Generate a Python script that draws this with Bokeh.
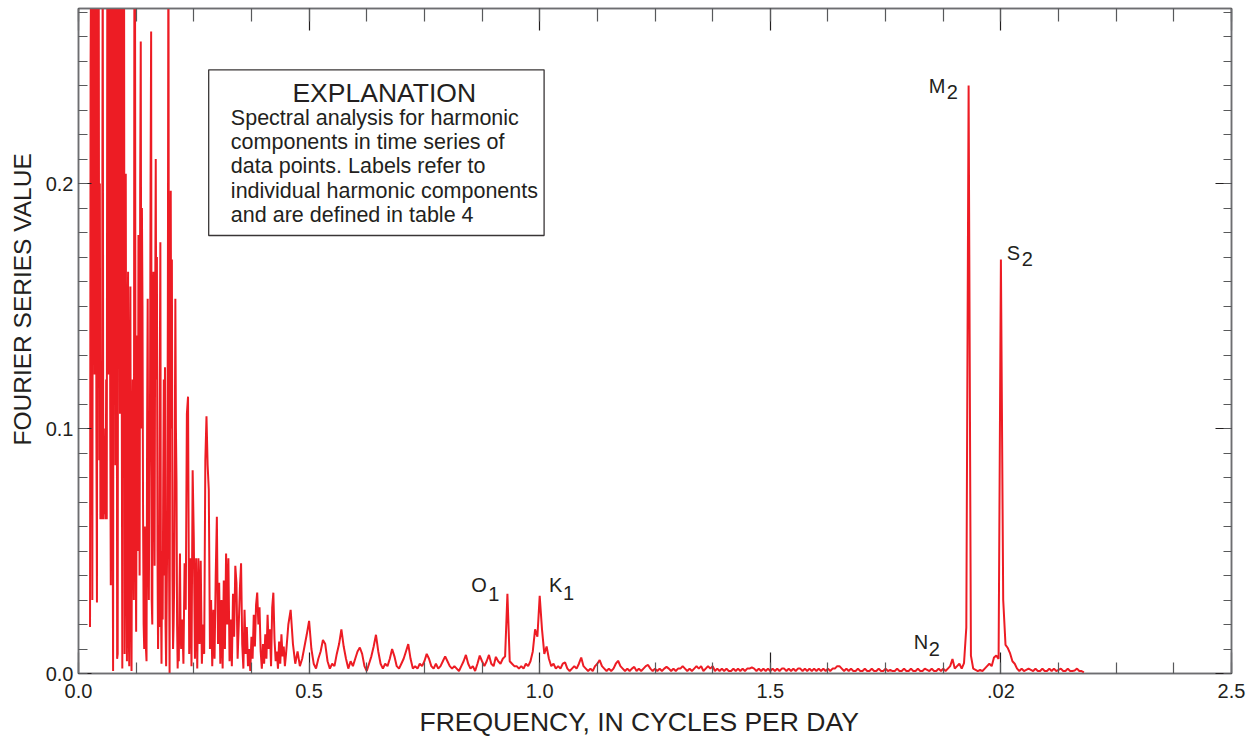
import numpy as np
from bokeh.plotting import figure
from bokeh.models import (Range1d, LinearAxis, FixedTicker, PrintfTickFormatter,
                          CustomJSTickFormatter, BoxAnnotation, Label, Title,
                          ColumnDataSource)
from bokeh.embed import file_html
from bokeh.resources import INLINE

# ---------------- data ----------------
# dense low-frequency part: start 0.025 cycles/day, step 0.00125
lo1_start = 0.025
lo1_step = 0.00125
lo1_vals = [
    0.019, 0.25, 0.30, 0.15, 0.030, 0.24, 0.31, 0.29, 0.122, 0.33,
    0.29, 0.10, 0.029, 0.27, 0.30, 0.31, 0.087, 0.20, 0.063, 0.09,
    0.063, 0.12, 0.31, 0.063, 0.10, 0.065, 0.080, 0.063, 0.12, 0.063,
    0.30, 0.26, 0.122, 0.31, 0.31, 0.108, 0.036, 0.30, 0.30, 0.085,
    0.001, 0.29, 0.32, 0.30, 0.085, 0.32, 0.29, 0.006, 0.008, 0.30,
    0.31, 0.30, 0.106, 0.31, 0.30, 0.12, 0.002, 0.29, 0.30, 0.31,
    0.008, 0.17, 0.204, 0.05, 0.005, 0.14, 0.164, 0.02, 0.003, 0.12,
    0.158, 0.03, 0.001, 0.09, 0.120, 0.07, 0.030, 0.31, 0.30, 0.06,
    0.017, 0.10, 0.138, 0.05, 0.179, 0.12, 0.040, 0.20, 0.258, 0.10,
    0.190, 0.15, 0.065, 0.02, 0.010, 0.06, 0.040, 0.01, 0.005, 0.10,
    0.153, 0.06, 0.030, 0.08, 0.106, 0.20, 0.262, 0.03, 0.020, 0.14,
    0.164, 0.09, 0.044, 0.15, 0.210, 0.12, 0.170, 0.05, 0.010, 0.04,
    0.019, 0.12, 0.176, 0.03, 0.004, 0.05, 0.022, 0.08, 0.120, 0.04,
    0.125, 0.02, 0.003, 0.03, 0.060, 0.15, 0.32, 0.05, 0.000, 0.12,
    0.197, 0.10, 0.169, 0.04, 0.010, 0.02, 0.037, 0.09, 0.153, 0.10,
    0.078, 0.02, 0.002, 0.015, 0.005, 0.03, 0.049, 0.02, 0.010, 0.015,
]
# low-frequency tail: start 0.225, step 0.0025
lo2_start = 0.225
lo2_step = 0.0025
lo2_vals = [
    0.022, 0.004, 0.045, 0.026, 0.106, 0.113, 0.008, 0.047, 0.003, 0.083,
    0.055, 0.006, 0.047, 0.002, 0.047, 0.012, 0.046, 0.004, 0.020, 0.008,
    0.087, 0.105, 0.085, 0.075, 0.010, 0.030, 0.003, 0.026, 0.006, 0.040,
    0.064, 0.012, 0.037, 0.004, 0.030, 0.002, 0.038, 0.010, 0.049, 0.020,
    0.047, 0.005, 0.022, 0.003, 0.0325, 0.015, 0.044, 0.037, 0.006, 0.020,
    0.035, 0.045, 0.012, 0.002, 0.026, 0.008, 0.019, 0.003, 0.010, 0.001,
    0.015, 0.006, 0.024, 0.011, 0.028, 0.033, 0.020, 0.027, 0.009, 0.002,
    0.012, 0.004, 0.016, 0.006, 0.024, 0.010, 0.018, 0.003, 0.027, 0.033,
    0.014, 0.005, 0.009, 0.002, 0.013, 0.004, 0.016, 0.007, 0.011, 0.003,
]

# higher frequencies: step 0.005, segments with their start frequency
hi_step = 0.005
seg_starts = [0.450, 0.955, 1.105, 1.505, 1.905]
seg_a = [
    0.008, 0.020, 0.026, 0.012, 0.004, 0.009, 0.003, 0.006, 0.011, 0.016,
    0.0215, 0.010, 0.004, 0.002, 0.006, 0.009, 0.0137, 0.012, 0.005, 0.002,
    0.004, 0.003, 0.008, 0.012, 0.018, 0.011, 0.006, 0.002, 0.005, 0.003,
    0.006, 0.009, 0.0106, 0.008, 0.003, 0.001, 0.004, 0.007, 0.011, 0.0158,
    0.009, 0.004, 0.002, 0.004, 0.003, 0.006, 0.010, 0.007, 0.003, 0.002,
    0.004, 0.006, 0.009, 0.012, 0.006, 0.002, 0.003, 0.002, 0.004, 0.003,
    0.005, 0.008, 0.006, 0.003, 0.002, 0.004, 0.002, 0.003, 0.005, 0.007,
    0.005, 0.003, 0.002, 0.003, 0.002, 0.001, 0.003, 0.005, 0.0076, 0.004,
    0.002, 0.003, 0.001, 0.004, 0.0073, 0.005, 0.003, 0.005, 0.0076, 0.004,
    0.003, 0.0068, 0.005, 0.004, 0.006, 0.007, 0.0325, 0.005, 0.004, 0.003,
    0.003,
]
seg_b = [
    0.002, 0.003, 0.002, 0.004, 0.003, 0.005, 0.009, 0.018, 0.015, 0.0317,
    0.018, 0.008, 0.011, 0.006, 0.003, 0.004, 0.002, 0.003, 0.002, 0.004,
    0.0045, 0.002, 0.001, 0.002, 0.003, 0.002, 0.004, 0.0065, 0.003, 0.002,
]
seg_c = [
    0.001, 0.002, 0.001, 0.003, 0.004, 0.0055, 0.003, 0.002, 0.001, 0.002,
    0.001, 0.002, 0.004, 0.0052, 0.003, 0.002, 0.001, 0.002, 0.001, 0.002,
    0.0027, 0.001, 0.002, 0.001, 0.002, 0.003, 0.0035, 0.002, 0.001, 0.002,
    0.001, 0.002, 0.001, 0.002, 0.0027, 0.002, 0.001, 0.002, 0.001, 0.002,
    0.002, 0.003, 0.002, 0.001, 0.002, 0.001, 0.002, 0.003, 0.002, 0.003,
    0.001, 0.002, 0.003, 0.002, 0.003, 0.001, 0.002, 0.001, 0.002, 0.001,
    0.002, 0.001, 0.001, 0.002, 0.001, 0.002, 0.001, 0.002, 0.001, 0.002,
    0.002, 0.0025, 0.002, 0.001, 0.002, 0.001, 0.002, 0.001, 0.002, 0.001,
]
seg_d = [
    0.002, 0.001, 0.002, 0.001, 0.002, 0.002, 0.001, 0.002, 0.001, 0.002,
    0.001, 0.002, 0.002, 0.001, 0.002, 0.001, 0.002, 0.001, 0.002, 0.001,
    0.002, 0.001, 0.002, 0.001, 0.002, 0.001, 0.002, 0.002, 0.003, 0.003,
    0.002, 0.001, 0.002, 0.001, 0.002, 0.001, 0.001, 0.002, 0.001, 0.001,
    0.002, 0.001, 0.001, 0.002, 0.001, 0.001, 0.002, 0.001, 0.001, 0.002,
    0.001, 0.0015, 0.001, 0.001, 0.002, 0.001, 0.001, 0.002, 0.001, 0.001,
    0.002, 0.001, 0.001, 0.002, 0.001, 0.001, 0.002, 0.0015, 0.001, 0.002,
    0.001, 0.001, 0.002, 0.001, 0.002, 0.001, 0.002, 0.003, 0.0059, 0.002,
]
seg_e = [
    0.003, 0.004, 0.002, 0.0042, 0.0187, 0.240, 0.0073, 0.002, 0.0015, 0.001,
    0.0015, 0.001, 0.002, 0.003, 0.004, 0.003, 0.0065, 0.0073, 0.006, 0.169,
    0.030, 0.0117, 0.0104, 0.0082, 0.005, 0.004, 0.002, 0.001, 0.002, 0.001,
    0.0015, 0.002, 0.0015, 0.001, 0.002, 0.001, 0.001, 0.002, 0.001, 0.001,
    0.002, 0.001, 0.002, 0.001, 0.0015, 0.002, 0.001, 0.001, 0.002, 0.001,
    0.001, 0.0012, 0.002, 0.001, 0.001, 0.0005,
]
hi_segments = [seg_a, seg_b, seg_c, seg_d, seg_e]

# axis ticks and labels
x_major = [0.0, 0.5, 1.0, 1.5, 2.0, 2.5]
x_labels = ["0.0", "0.5", "1.0", "1.5", ".02", "2.5"]
y_major = [0.0, 0.1, 0.2]
y_labels = ["0.0", "0.1", "0.2"]

# harmonic component labels
tide_names = ["O", "K", "N", "M", "S"]
tide_subs = ["1", "1", "2", "2", "2"]

explanation_title = "EXPLANATION"
explanation_lines = [
    "Spectral analysis for harmonic",
    "components in time series of",
    "data points. Labels refer to",
    "individual harmonic components",
    "and are defined in table 4",
]

# ---------------- assemble series ----------------
freq = [lo1_start + lo1_step * i for i in range(len(lo1_vals))]
vals = list(lo1_vals)
freq += [lo2_start + lo2_step * i for i in range(len(lo2_vals))]
vals += lo2_vals
for start, seg in zip(seg_starts, hi_segments):
    freq += [start + hi_step * i for i in range(len(seg))]
    vals += seg
src = ColumnDataSource(dict(f=freq, v=vals))

# ---------------- layout helpers ----------------
W, H = 1259, 740
L, R, T, B = 77, 28, 8, 67
FW = W - L - R
FH = H - T - B
X_END = 2.5
Y_PX_PER_UNIT = 2450.0
Y_END = FH / Y_PX_PER_UNIT
TEXT_SHIFT = 9  # label glyph offset correction, px


def fx(px):
    return (px - L) * X_END / FW


def fy(py):
    return (H - B - py + TEXT_SHIFT) / Y_PX_PER_UNIT


def fyb(py):
    return (H - B - py) / Y_PX_PER_UNIT


FONT = "Liberation Sans"
INK = "#231f20"
RED = "#ed1c24"

p = figure(width=W, height=H, x_range=Range1d(0, X_END), y_range=Range1d(0, Y_END),
           output_backend="svg", toolbar_location=None,
           min_border_left=L, min_border_right=R, min_border_top=T, min_border_bottom=B,
           background_fill_color="white", border_fill_color="white")
p.xgrid.visible = False
p.ygrid.visible = False
p.outline_line_color = "#6d6e71"
p.outline_line_width = 1.5

x_ticker = FixedTicker(ticks=x_major, minor_ticks=[i * 0.125 for i in range(21)])
y_ticker = FixedTicker(ticks=y_major, minor_ticks=[i * 0.01 for i in range(28)])


def style_axis(ax, major_in, minor_in):
    ax.major_tick_out = 0
    ax.minor_tick_out = 0
    ax.major_tick_in = major_in
    ax.minor_tick_in = minor_in
    ax.major_tick_line_color = INK
    ax.minor_tick_line_color = "#58595b"
    ax.major_tick_line_width = 1.2
    ax.minor_tick_line_width = 1.2
    ax.axis_line_color = "#6d6e71"
    ax.axis_line_width = 1.5
    ax.major_label_text_font = FONT
    ax.major_label_text_color = INK
    ax.major_label_text_font_size = "20px"


xb = p.xaxis[0]
xb.ticker = x_ticker
xb.formatter = PrintfTickFormatter(format="%.1f")
xb.major_label_overrides = dict(zip(x_major, x_labels))
style_axis(xb, 21, 11)
xb.major_label_standoff = 10

yl = p.yaxis[0]
yl.ticker = y_ticker
yl.formatter = PrintfTickFormatter(format="%.1f")
yl.major_label_overrides = dict(zip(y_major, y_labels))
style_axis(yl, 13, 9)
yl.major_label_standoff = 5
yl.major_label_orientation = "horizontal"

blank = CustomJSTickFormatter(code="return ''")
xt = LinearAxis(ticker=x_ticker, formatter=blank)
style_axis(xt, 22, 13)
xt.major_label_standoff = 0
p.add_layout(xt, "above")

yr = LinearAxis(ticker=y_ticker, formatter=blank)
style_axis(yr, 16, 8)
yr.major_label_standoff = 0
p.add_layout(yr, "right")

p.add_layout(Title(text="FREQUENCY, IN CYCLES PER DAY", align="left", offset=341,
                   text_font=FONT, text_font_size="26.5px", text_font_style="normal",
                   text_color=INK, standoff=8), "below")
p.add_layout(Title(text="FOURIER SERIES VALUE", align="left", offset=228,
                   text_font=FONT, text_font_size="24.5px", text_font_style="normal",
                   text_color=INK, standoff=13), "left")

# spectrum line
p.line("f", "v", source=src, line_color=RED, line_width=2.0)

# explanation box
p.add_layout(BoxAnnotation(left=fx(207.3), right=fx(543), top=fyb(69.3), bottom=fyb(235),
                           fill_color="white", fill_alpha=1.0,
                           line_color=INK, line_width=1.3, line_alpha=0.9))
p.add_layout(Label(x=fx(383), y=fy(101), text=explanation_title, text_align="center",
                   text_baseline="alphabetic", text_font=FONT, text_font_size="26.5px",
                   text_color=INK))
for k, line in enumerate(explanation_lines):
    p.add_layout(Label(x=fx(229.5), y=fy(126 + 24.4 * k), text=line, text_align="left",
                       text_baseline="alphabetic", text_font=FONT, text_font_size="21.5px",
                       text_color=INK))

# component labels (letter left edge/baseline, subscript left edge/baseline, in pixels)
label_px = [(470, 593, 487, 602), (548, 593, 562, 601), (913, 650, 928, 657),
            (928, 94, 946, 100), (1006, 261, 1021, 267)]
for name, sub, (lx, ly, sx, sy) in zip(tide_names, tide_subs, label_px):
    p.add_layout(Label(x=fx(lx), y=fy(ly), text=name, text_align="left",
                       text_baseline="alphabetic", text_font=FONT, text_font_size="20px",
                       text_color=INK))
    p.add_layout(Label(x=fx(sx), y=fy(sy), text=sub, text_align="left",
                       text_baseline="alphabetic", text_font=FONT, text_font_size="20px",
                       text_color=INK))

open("out.html", "w").write(file_html(p, INLINE))
